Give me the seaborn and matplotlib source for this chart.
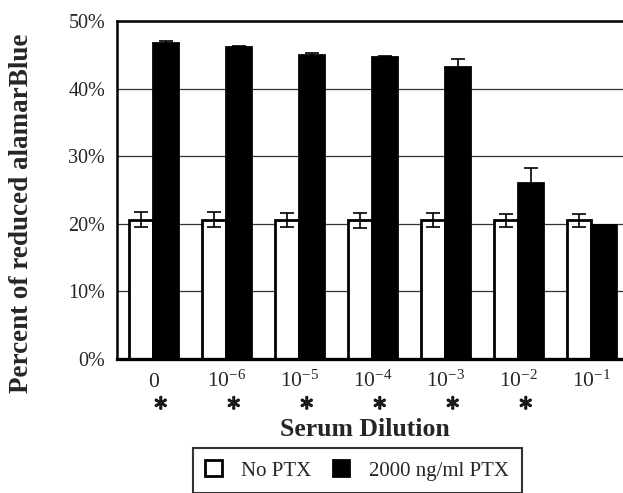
import matplotlib
matplotlib.use("Agg")
import matplotlib.pyplot as plt
import matplotlib.patheffects as pe
import numpy as np
import pandas as pd
import seaborn as sns

# values (percent)
dilutions = ["0", "10$^{-6}$", "10$^{-5}$", "10$^{-4}$", "10$^{-3}$", "10$^{-2}$", "10$^{-1}$"]
no_ptx = [20.6, 20.6, 20.6, 20.5, 20.6, 20.5, 20.5]
no_ptx_err = [1.1, 1.1, 1.0, 1.1, 1.0, 1.0, 1.0]
ptx = [46.8, 46.2, 44.9, 44.7, 43.2, 26.1, 19.8]
ptx_err = [0.2, 0.1, 0.3, 0.1, 1.2, 2.1, 0.0]
marks = ["*", "*", "*", "*", "*", "*", ""]
groups = ["No PTX", "2000 ng/ml PTX"]
yticks = [0, 10, 20, 30, 40, 50]
ytick_labels = ["0%", "10%", "20%", "30%", "40%", "50%"]

sns.set_style("white")
plt.rcParams["font.family"] = ["Liberation Serif", "DejaVu Serif"]
plt.rcParams["mathtext.fontset"] = "custom"
plt.rcParams["mathtext.rm"] = "Liberation Serif"
plt.rcParams["mathtext.it"] = "Liberation Serif:italic"
plt.rcParams["mathtext.bf"] = "Liberation Serif:bold"
plt.rcParams["axes.unicode_minus"] = False

df = pd.DataFrame({
    "dilution": dilutions * 2,
    "value": no_ptx + ptx,
    "group": [groups[0]] * len(dilutions) + [groups[1]] * len(dilutions),
})

fig = plt.figure(figsize=(6.23, 4.93), dpi=100)
ax = fig.add_axes([0.1878, 0.2718, 0.8202, 0.6856])

sns.barplot(data=df, x="dilution", y="value", hue="group", order=dilutions,
            hue_order=groups, palette=["white", "black"], width=0.66,
            edgecolor="black", linewidth=2.0, errorbar=None, ax=ax)

# error bars at the centre of each bar
for cont, errs in zip(ax.containers, [no_ptx_err, ptx_err]):
    xs = [b.get_x() + b.get_width() / 2 for b in cont]
    hs = [b.get_height() for b in cont]
    ax.errorbar(xs, hs, yerr=errs, fmt="none", ecolor="black",
                elinewidth=1.2, capsize=5, capthick=1.2, zorder=5)

ax.set_xlim(-0.5, len(dilutions) - 0.5)
ax.set_ylim(0, 50)
ax.set_yticks(yticks)
ax.set_yticklabels(ytick_labels)
ax.set_axisbelow(True)
ax.yaxis.grid(True, color="#333333", linewidth=0.9)
ax.xaxis.grid(False)
ax.tick_params(axis="y", length=0, pad=8.5, labelsize=14.5)
ax.tick_params(axis="x", length=0, pad=20, labelsize=15.5)
for lbl in ax.get_xticklabels():
    lbl.set_va("baseline")
ax.set_xlabel("")
ax.set_ylabel("")

for side in ["left", "top", "bottom", "right"]:
    ax.spines[side].set_color("black")
ax.spines["left"].set_linewidth(1.8)
ax.spines["top"].set_linewidth(1.8)
ax.spines["bottom"].set_linewidth(2.4)

# significance marks under the categories (mathtext keeps the box tight,
# the stroke makes the star heavy like the original)
for i, m in enumerate(marks):
    if m:
        ax.text(i + 0.1, -0.131, r"$\ast$", transform=ax.get_xaxis_transform(),
                ha="center", va="center", fontsize=21,
                path_effects=[pe.withStroke(linewidth=1.1, foreground="black")])

fig.text(365 / 623, 1 - 430 / 493, "Serum Dilution", ha="center", va="center",
         fontsize=18.5, fontweight="bold")
fig.text(22 / 623, 1 - 213 / 493, "Percent of reduced alamarBlue", rotation=90,
         ha="center", va="center", fontsize=19.5, fontweight="bold")

handles, labels = ax.get_legend_handles_labels()
ax.get_legend().remove()
leg = fig.legend(handles, labels, loc="center", ncol=2,
                 bbox_to_anchor=(357 / 623, 1 - 470.5 / 493),
                 fontsize=15, frameon=True, fancybox=False,
                 handlelength=0.8, handleheight=0.8, handletextpad=0.95,
                 columnspacing=1.0, borderpad=0.6, borderaxespad=0)
leg.get_frame().set_edgecolor("black")
leg.get_frame().set_linewidth(1.5)

fig.savefig("out.png", dpi=100)
